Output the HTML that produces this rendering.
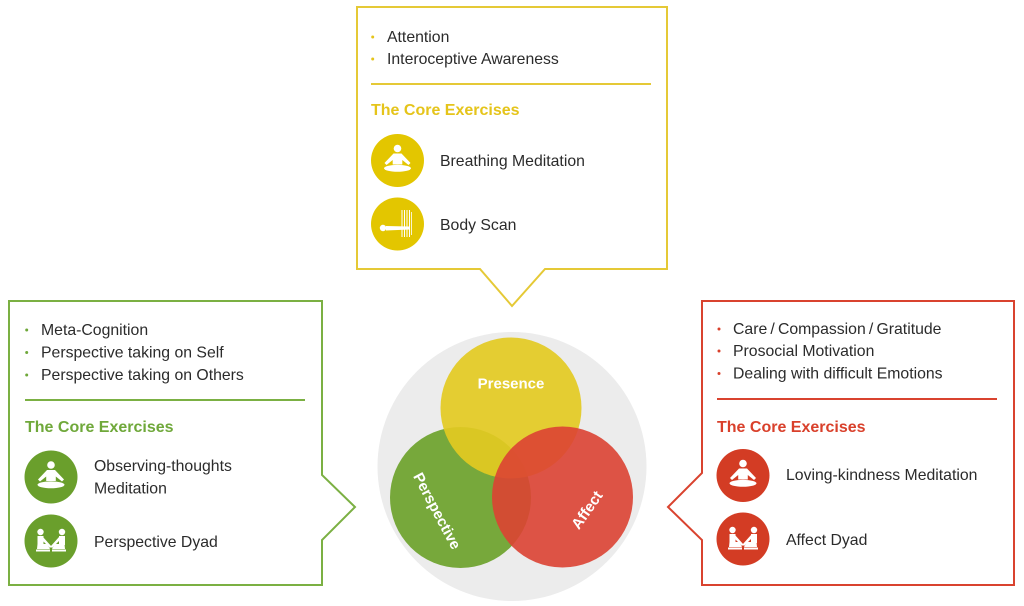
<!DOCTYPE html>
<html><head><meta charset="utf-8"><style>
html,body{margin:0;padding:0;background:#fff;}
svg{display:block;}
text{font-family:"Liberation Sans",Arial,sans-serif;}
.t{font-size:15.8px;fill:#2b2b2b;}
.h{font-size:16px;font-weight:bold;}
.c{font-size:15px;font-weight:bold;fill:#fff;}
</style></head><body>
<svg width="1024" height="606" viewBox="0 0 1024 606" xmlns="http://www.w3.org/2000/svg">
<defs>
<g id="med" fill="#fff">
  <circle cx="0" cy="-12" r="3.8"/>
  <path d="M-4,-7 L4,-7 L13,2.5 L11,4.5 L4.8,-0.5 L4.8,4 L-4.8,4 L-4.8,-0.5 L-11,4.5 L-13,2.5 Z"/>
  <ellipse cx="0" cy="7.8" rx="13.5" ry="3.4"/>
</g>
<g id="dyad" fill="#fff">
  <circle cx="-10.5" cy="-9" r="3.2"/>
  <rect x="-13.5" y="-5" width="6" height="9"/>
  <path d="M-8,-4 L0.5,5.5 L-1,7 L-8,0 Z"/>
  <path d="M-13.5,3 L-4,3 L-1,8 L-14,8 Z"/>
  <rect x="-15" y="8.5" width="14" height="2"/>
  <circle cx="11" cy="-9" r="3.2"/>
  <rect x="8" y="-5" width="6" height="9"/>
  <path d="M8,-4 L-0.5,5.5 L1,7 L8,0 Z"/>
  <path d="M13.5,3 L4,3 L1,8 L14,8 Z"/>
  <rect x="1" y="8.5" width="14" height="2"/>
</g>
</defs>

<!-- Yellow box -->
<path d="M357,7 L667,7 L667,269 L545,269 L512,306 L480,269 L357,269 Z" fill="#fff" stroke="#e5c936" stroke-width="2"/>
<circle cx="372.7" cy="37" r="1.5" fill="#e5c41a"/>
<circle cx="372.7" cy="59" r="1.5" fill="#e5c41a"/>
<text class="t" x="387" y="42">Attention</text>
<text class="t" x="387" y="64">Interoceptive Awareness</text>
<line x1="371" y1="84" x2="651" y2="84" stroke="#e5c936" stroke-width="2"/>
<text class="h" x="371" y="115" fill="#e5c41a">The Core Exercises</text>
<circle cx="397.5" cy="160.5" r="26.5" fill="#e3c600"/>
<use href="#med" x="397.5" y="160.5"/>
<circle cx="397.5" cy="224" r="26.5" fill="#e3c600"/>
<g fill="#fff">
  <circle cx="383" cy="228" r="3.2"/>
  <path d="M386,226 L409,226.5 L410,229.5 L386,230.5 Z"/>
  <rect x="401.5" y="210" width="1" height="27"/>
  <rect x="404" y="210" width="1" height="27"/>
  <rect x="406.5" y="210" width="1" height="27"/>
  <rect x="409" y="210" width="1" height="27"/>
  <rect x="411" y="212" width="0.8" height="23"/>
</g>
<text class="t" x="440" y="166">Breathing Meditation</text>
<text class="t" x="440" y="230">Body Scan</text>

<!-- Green box -->
<path d="M9,301 L322,301 L322,475 L355,507 L322,540 L322,585 L9,585 Z" fill="#fff" stroke="#7bb043" stroke-width="2"/>
<circle cx="26.7" cy="330" r="1.5" fill="#6fa83a"/>
<circle cx="26.7" cy="352.5" r="1.5" fill="#6fa83a"/>
<circle cx="26.7" cy="375" r="1.5" fill="#6fa83a"/>
<text class="t" x="41" y="335">Meta-Cognition</text>
<text class="t" x="41" y="357.5">Perspective taking on Self</text>
<text class="t" x="41" y="380">Perspective taking on Others</text>
<line x1="25" y1="400" x2="305" y2="400" stroke="#7bb043" stroke-width="2"/>
<text class="h" x="25" y="432" fill="#6fa83a">The Core Exercises</text>
<circle cx="51" cy="477" r="26.5" fill="#6a9f2c"/>
<use href="#med" x="51" y="477"/>
<circle cx="51" cy="541" r="26.5" fill="#6a9f2c"/>
<use href="#dyad" x="51" y="541"/>
<text class="t" x="94" y="471">Observing-thoughts</text>
<text class="t" x="94" y="493.5">Meditation</text>
<text class="t" x="94" y="547">Perspective Dyad</text>

<!-- Red box -->
<path d="M1014,301 L702,301 L702,473 L668,507 L702,540 L702,585 L1014,585 Z" fill="#fff" stroke="#d9432f" stroke-width="2"/>
<circle cx="719" cy="329" r="1.5" fill="#d9402b"/>
<circle cx="719" cy="351" r="1.5" fill="#d9402b"/>
<circle cx="719" cy="373.5" r="1.5" fill="#d9402b"/>
<text class="t" x="733" y="334">Care&#8201;/&#8201;Compassion&#8201;/&#8201;Gratitude</text>
<text class="t" x="733" y="356">Prosocial Motivation</text>
<text class="t" x="733" y="378.5">Dealing with difficult Emotions</text>
<line x1="717" y1="399" x2="997" y2="399" stroke="#d9432f" stroke-width="2"/>
<text class="h" x="717" y="432" fill="#d9402b">The Core Exercises</text>
<circle cx="743" cy="475.5" r="26.5" fill="#d33c24"/>
<use href="#med" x="743" y="475.5"/>
<circle cx="743" cy="539" r="26.5" fill="#d33c24"/>
<use href="#dyad" x="743" y="539"/>
<text class="t" x="786" y="480">Loving-kindness Meditation</text>
<text class="t" x="786" y="545">Affect Dyad</text>

<!-- Venn -->
<circle cx="512" cy="466.5" r="134.5" fill="#ececec"/>
<circle cx="460.5" cy="497.5" r="70.5" fill="#77a83b"/>
<circle cx="511" cy="408" r="70.5" fill="#e3ca22" fill-opacity="0.92"/>
<circle cx="562.5" cy="497" r="70.5" fill="#db4333" fill-opacity="0.9"/>
<text class="c" x="511" y="388.3" text-anchor="middle">Presence</text>
<text class="c" text-anchor="middle" transform="translate(437,511) rotate(62)" y="5">Perspective</text>
<text class="c" text-anchor="middle" transform="translate(587,510) rotate(-55)" y="5">Affect</text>
</svg>
</body></html>
